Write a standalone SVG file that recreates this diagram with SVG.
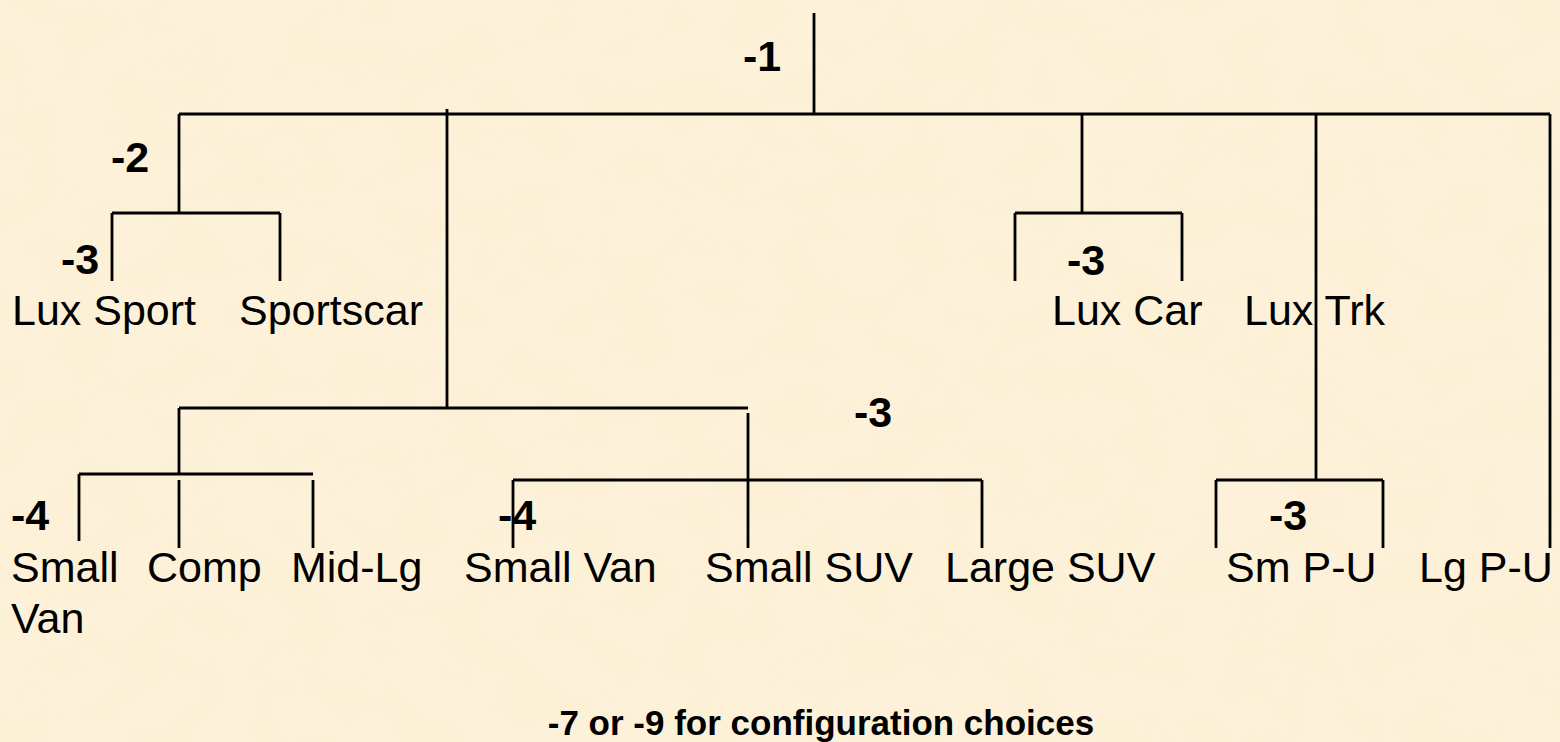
<svg xmlns="http://www.w3.org/2000/svg" width="1560" height="742" viewBox="0 0 1560 742">
  <defs>
    <filter id="parchment" x="0" y="0" width="100%" height="100%">
      <feTurbulence type="fractalNoise" baseFrequency="0.018 0.025" numOctaves="3" seed="7" result="noise"/>
      <feColorMatrix in="noise" type="matrix" values="0 0 0 0 0.86  0 0 0 0 0.74  0 0 0 0 0.45  0 0 0 1.1 -0.45"/>
    </filter>
    <style>
      .lbl { font-family: "Liberation Sans", Arial, sans-serif; font-size: 43px; fill: #000; }
      .num { font-family: "Liberation Sans", Arial, sans-serif; font-size: 43px; font-weight: bold; fill: #000; }
      .note { font-family: "Liberation Sans", Arial, sans-serif; font-size: 35px; font-weight: bold; fill: #000; }
      .tree path { fill: none; stroke: #000; stroke-width: 2.8; stroke-linecap: butt; }
    </style>
  </defs>

  <!-- parchment background -->
  <rect width="1560" height="742" fill="#FDF2D9"/>
  <rect width="1560" height="742" filter="url(#parchment)" opacity="0.28"/>

  <!-- tree connectors -->
  <g id="connectors" class="tree">
    <path d="M814 13 V114"/>
    <path d="M179 114 H1550"/>
    <!-- sports branch -->
    <path d="M179 114 V213 M112 213 H280 M112 213 V281 M280 213 V281"/>
    <!-- mainstream branch -->
    <path d="M447 109 V408 M179 408 H748 M748 413 V548"/>
    <path d="M179 408 V474 M79 474 H313 M79 474 V541 M179 480 V548 M313 480 V548"/>
    <path d="M513 480 H982 M513 480 V548 M982 480 V548"/>
    <!-- luxury car branch -->
    <path d="M1082 114 V213 M1015 213 H1182 M1015 213 V281 M1182 213 V281"/>
    <!-- truck branch -->
    <path d="M1316 114 V480 M1216 480 H1383 M1216 480 V548 M1383 480 V548"/>
    <path d="M1550 114 V548"/>
  </g>

  <!-- level weights -->
  <g id="weights">
    <text class="num" x="743" y="71">-1</text>
    <text class="num" x="111" y="172">-2</text>
    <text class="num" x="61" y="274">-3</text>
    <text class="num" x="1067" y="275">-3</text>
    <text class="num" x="854" y="427">-3</text>
    <text class="num" x="11" y="530">-4</text>
    <text class="num" x="498" y="530">-4</text>
    <text class="num" x="1269" y="530">-3</text>
  </g>

  <!-- leaf nodes -->
  <g id="node-lux-sport"><text class="lbl" x="12" y="325">Lux Sport</text></g>
  <g id="node-sportscar"><text class="lbl" x="239" y="325">Sportscar</text></g>
  <g id="node-lux-car"><text class="lbl" x="1052" y="325">Lux Car</text></g>
  <g id="node-lux-trk"><text class="lbl" x="1244" y="325">Lux Trk</text></g>
  <g id="node-small-van-car">
    <text class="lbl" x="11" y="582">Small</text>
    <text class="lbl" x="11" y="633">Van</text>
  </g>
  <g id="node-comp"><text class="lbl" x="147" y="582">Comp</text></g>
  <g id="node-mid-lg"><text class="lbl" x="291" y="582">Mid-Lg</text></g>
  <g id="node-small-van"><text class="lbl" x="464" y="582">Small Van</text></g>
  <g id="node-small-suv"><text class="lbl" x="705" y="582">Small SUV</text></g>
  <g id="node-large-suv"><text class="lbl" x="945" y="582">Large SUV</text></g>
  <g id="node-sm-pu"><text class="lbl" x="1226" y="582">Sm P-U</text></g>
  <g id="node-lg-pu"><text class="lbl" x="1419" y="582">Lg P-U</text></g>

  <!-- footnote -->
  <text class="note" x="821" y="735" text-anchor="middle">-7 or -9 for configuration choices</text>
</svg>
